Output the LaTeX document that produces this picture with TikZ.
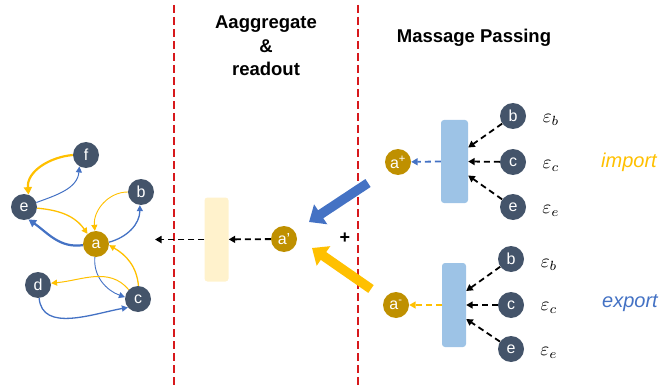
\documentclass[tikz,border=0pt]{standalone}
\usepackage{fontspec}
\setmainfont{Liberation Sans}
\usetikzlibrary{arrows.meta}
\definecolor{ndark}{HTML}{44546A}
\definecolor{gold}{HTML}{BF9000}
\definecolor{yel}{HTML}{FFC000}
\definecolor{blu}{HTML}{4472C4}
\definecolor{lblue}{HTML}{9DC3E6}
\definecolor{lyel}{HTML}{FFF2CC}
\definecolor{redl}{HTML}{D7191C}
\tikzset{
  gnode/.style={circle, fill=ndark, minimum size=26pt, inner sep=0pt, text=white, font=\fontsize{16}{16}\selectfont},
  anode/.style={gnode, fill=gold},
  gedge/.style={-{Triangle[length=6pt,width=6pt]}, line width=1.1pt},
  gthick/.style={-{Triangle[length=7.5pt,width=8pt]}, line width=2.2pt},
  dasharr/.style={-{Triangle[length=6.5pt,width=7pt]}, dash pattern=on 6pt off 4pt, line width=1.8pt},
  vbox/.style={rounded corners=3pt, minimum width=24pt, minimum height=84pt, inner sep=0pt},
  reddash/.style={redl, line width=1.6pt, dash pattern=on 8pt off 4pt},
  bigarr/.style={line width=9.5pt, -{Triangle[length=14pt,width=23pt]}},
  eps/.style={scale=1.9},
  title/.style={font=\bfseries\fontsize{18.5}{23.5}\selectfont, align=center},
}
\begin{document}
\begin{tikzpicture}[x=1pt,y=1pt]
\useasboundingbox (0,0) rectangle (661,-385);
% red dashed separators
\coordinate (r1t) at (174,-5);  \coordinate (r1b) at (174,-385);
\coordinate (r2t) at (358,-5);  \coordinate (r2b) at (358,-385);
\draw[reddash] (r1t) -- (r1b);
\draw[reddash] (r2t) -- (r2b);

% titles
\node[title] (t1) at (266,-46) {Aaggregate\\\&\\readout};
\node[font=\bfseries\fontsize{18.5}{20}\selectfont] (t2) at (474,-38) {Massage Passing};

% left graph
\node[gnode] (f) at (86,-155) {f};
\node[gnode] (e) at (24,-207) {e};
\node[gnode] (b) at (141,-192) {b};
\node[anode] (a) at (96,-244) {a};
\node[gnode] (d) at (38,-285) {d};
\node[gnode] (c) at (138,-299) {c};

\draw[gthick, yel] (f.180) to[out=185, in=95] (e.70);
\draw[gedge, blu, line width=1pt] (e.20) to[out=20, in=-95] (f.-120);
\draw[gedge, yel, line width=1.3pt] (e.-5) to[out=-5, in=125] (a.130);
\draw[gthick, blu] (a.185) to[out=188, in=-35] (e.-70);
\draw[gedge, yel, line width=0.9pt] (b.180) to[out=180, in=95] (a.95);
\draw[gedge, blu, line width=1.3pt] (a.8) to[out=15, in=-90] (b.-95);
\draw[gedge, yel, line width=1.3pt] (c.88) to[out=95, in=-30] (a.-5);
\draw[gedge, blu, line width=0.9pt] (a.-95) to[out=-95, in=160] (c.172);
\draw[gedge, yel, line width=1pt] (c.135) to[out=130, in=5] (d.8);
\draw[gedge, blu, line width=1.3pt] (d.-85) to[out=-85, in=190] (c.-140);

% aggregate
\node[vbox, fill=lyel] (agg) at (216.5,-239.5) {};
\node[anode] (ap) at (284,-239) {a'};
\coordinate (outp) at (155,-239.5);
\draw[dasharr] (ap) -- (agg);
\draw[dasharr] (agg) -- (outp);

% big arrows and plus
\coordinate (bt) at (368,-183); \coordinate (bh) at (309,-222);
\coordinate (yt) at (371,-289); \coordinate (yh) at (312,-248);
\draw[bigarr, blu] (bt) -- (bh);
\draw[bigarr, yel] (yt) -- (yh);
\node[font=\bfseries\fontsize{18}{18}\selectfont] (plus) at (345,-238) {+};

% upper message passing (import)
\node[vbox, fill=lblue, minimum width=27pt, minimum height=83pt] (m1) at (454.5,-161.5) {};
\node[anode] (apl) at (398,-162) {a\textsuperscript{+}};
\node[gnode] (b1) at (513,-116) {b};
\node[gnode] (c1) at (513,-162) {c};
\node[gnode] (e1) at (513,-207) {e};
\draw[dasharr] (b1) -- ([yshift=14pt]m1.east);
\draw[dasharr] (c1) -- (m1.east);
\draw[dasharr] (e1) -- ([yshift=-14pt]m1.east);
\draw[dasharr, blu] (m1.west) -- (apl);
\node[eps] (eb1) at (551,-120) {$\varepsilon_b$};
\node[eps] (ec1) at (551,-166) {$\varepsilon_c$};
\node[eps] (ee1) at (551,-211) {$\varepsilon_e$};
\node[font=\itshape\fontsize{20}{20}\selectfont, text=yel] (imp) at (629,-162) {import};

% lower message passing (export)
\node[vbox, fill=lblue] (m2) at (454,-305) {};
\node[anode] (am) at (396,-305) {a\textsuperscript{-}};
\node[gnode] (b2) at (511,-259) {b};
\node[gnode] (c2) at (511,-305) {c};
\node[gnode] (e2) at (511,-349) {e};
\draw[dasharr] (b2) -- ([yshift=14pt]m2.east);
\draw[dasharr] (c2) -- (m2.east);
\draw[dasharr] (e2) -- ([yshift=-14pt]m2.east);
\draw[dasharr, yel] (m2.west) -- (am);
\node[eps] (eb2) at (549,-265) {$\varepsilon_b$};
\node[eps] (ec2) at (549,-308) {$\varepsilon_c$};
\node[eps] (ee2) at (549,-353) {$\varepsilon_e$};
\node[font=\itshape\fontsize{20}{20}\selectfont, text=blu] (exp) at (630,-303) {export};
\end{tikzpicture}
\end{document}
